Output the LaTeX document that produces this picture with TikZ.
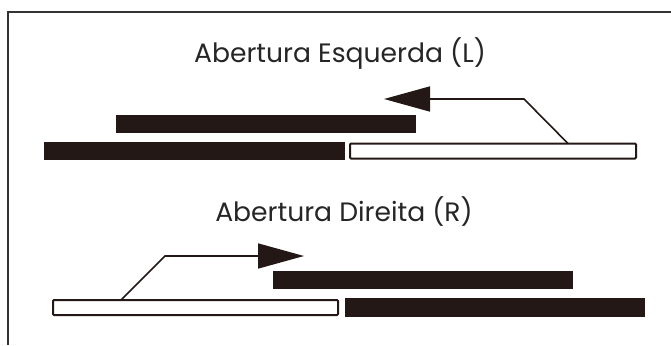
\documentclass[tikz,border=0pt]{standalone}
\usepackage{fontspec}
\setmainfont{Poppins}
\usetikzlibrary{arrows.meta}
\definecolor{barink}{HTML}{231815}
\definecolor{frameink}{HTML}{333333}
\tikzset{
	solidbar/.style = {fill = barink, draw = none, inner sep = 0pt, outer sep = 0pt, minimum height = 18pt},
	openbar/.style = {fill = white, draw = barink, line width = 2pt, rounded corners = 1pt, inner sep = 0pt, outer sep = 0pt, minimum height = 15pt},
	caption/.style = {anchor = base, font = \fontsize{26.6}{30}\selectfont, text = black!85},
	slide/.style = {draw = barink, line width = 1.6pt, -{Triangle[length = 46pt, width = 25pt]}}
}
\begin{document}
\begin{tikzpicture}[x = 1pt, y = -1pt]
\useasboundingbox (0,0) rectangle (671,345);
\fill[white] (0,0) rectangle (671,345);
% frame
\draw[frameink, line width = 2pt] (8,345) -- (8,12) -- (671,12);
% left opening
\node[caption] (titleL) at (340,63) {Abertura Esquerda (L)};
\node[solidbar, minimum width = 300pt] (leftUpper) at (266,124) {};
\node[solidbar, minimum width = 301pt] (leftFixed) at (194.5,151) {};
\node[openbar, minimum width = 286pt] (leftOpen) at (493,151) {};
\coordinate (leftKnee) at (524,99);
\coordinate (leftTip) at (384,99);
\draw[slide] ([xshift = 75pt]leftOpen.north) -- (leftKnee) -- (leftTip);
% right opening
\node[caption] (titleR) at (344,221) {Abertura Direita (R)};
\node[solidbar, minimum width = 300pt] (rightUpper) at (423,280) {};
\node[solidbar, minimum width = 300pt, minimum height = 19pt] (rightFixed) at (495,307.5) {};
\node[openbar, minimum width = 285pt] (rightOpen) at (195.5,307.5) {};
\coordinate (rightKnee) at (165,256);
\coordinate (rightTip) at (304,256);
\draw[slide] ([xshift = -74.5pt]rightOpen.north) -- (rightKnee) -- (rightTip);
\end{tikzpicture}
\end{document}
